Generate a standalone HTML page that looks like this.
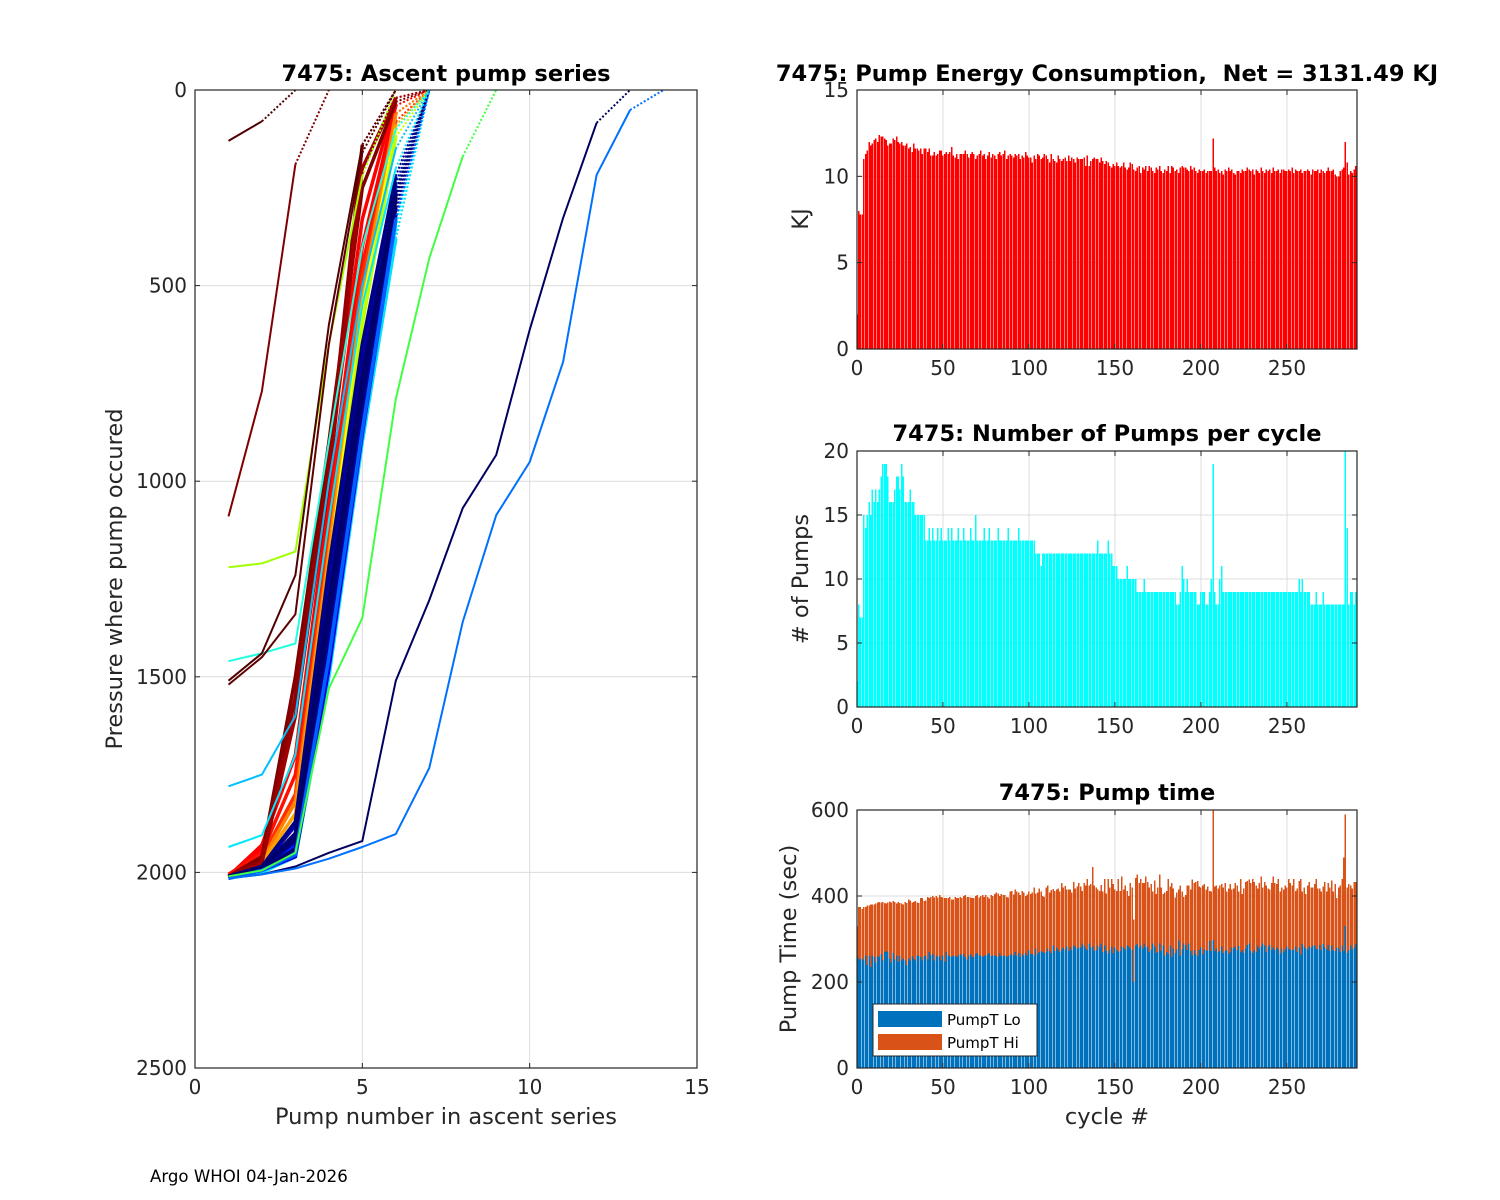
<!DOCTYPE html>
<html><head><meta charset="utf-8">
<style>
html,body{margin:0;padding:0;background:#fff;}
svg{display:block;font-family:"DejaVu Sans","Liberation Sans",sans-serif;}
</style></head>
<body>
<svg id="fig" width="1500" height="1200" viewBox="0 0 1500 1200">
<rect x="0" y="0" width="1500" height="1200" fill="#fff"/>
</svg>
<script>
// ---------- Left chart data ----------
const profileColors = [
"#ff0000","#ff0000","#ff1000","#ff3000","#ff8000","#ffa000","#ffff00","#c0ff00",
"#800000","#900000","#a00000",
"#00ff80","#00ffff","#00e0ff",
"#0000ff","#0020ff","#0040ff","#0000e0","#0000c0",
"#000080","#00008f","#000070","#00009f","#000080","#00006a","#0060ff",
"#800000","#a0ff00","#20ffe0","#00c0ff","#00e8ff","#500000","#600000",
"#40ff40","#000060","#0070ff"];
const profilePressures = [
[2010,1940,1600,950,330,20,0],
[2010,1930,1700,1050,400,40,0],
[2005,1950,1750,1100,450,60,0],
[2010,1960,1800,1150,480,80,0],
[2010,1970,1820,1180,520,60,0],
[2010,1975,1850,1200,540,90,0],
[2010,1980,1900,1230,560,100,0],
[2010,1982,1910,1260,600,120,0],
[2010,1960,1500,900,250,30,0],
[2010,1970,1550,950,140,0],
[2010,1975,1600,1000,200,20,0],
[2010,1990,1920,1300,650,250,0],
[2010,1990,1930,1380,800,350,0],
[2015,2000,1960,1500,900,380,0],
[2010,1990,1900,1280,700,260,0],
[2010,1985,1930,1350,750,280,0],
[2012,1990,1950,1400,820,300,0],
[2015,1995,1960,1480,880,330,0],
[2010,1985,1880,1250,680,240,0],
[2010,1988,1900,1300,720,260,0],
[2010,1990,1920,1330,760,280,0],
[2012,1992,1940,1380,800,300,0],
[2012,1995,1955,1420,840,320,0],
[2010,1985,1870,1220,650,220,0],
[2010,1988,1910,1310,740,270,0],
[2015,1995,1955,1450,870,330,0],
[1090,770,190,0],
[1220,1210,1180,650,220,0],
[1460,1440,1415,900,400,100,0],
[1780,1750,1600,1000,500,150,0],
[1935,1905,1700,1100,550,200,0],
[1510,1440,1240,600,140,0],
[1520,1450,1340,650,160,0],
[2010,1995,1950,1530,1350,790,430,170,0],
[2015,2005,1985,1950,1920,1510,1304,1069,933,613,327,84,0],
[2015,2005,1990,1965,1935,1902,1733,1360,1087,951,695,217,51,0]];
const profileA = [130,80,0];
const leftXTicks = [0,5,10,15];
const leftYTicks = [0,500,1000,1500,2000,2500];

// ---------- Right chart data ----------
const energy = [
2,8,7.8,7.8,11,11.3,11.5,12,11.8,11.9,
12.1,12.2,12,12.4,12.3,12.3,12.2,12.1,11.8,11.9,
11.9,12.2,12.1,12.3,12,11.9,12,11.8,11.8,11.9,
11.6,11.7,11.4,11.9,11.6,11.6,11.5,11.6,11.3,11.6,
11.6,11.4,11.6,11.2,11.2,11.4,11.2,11.3,11.5,11.5,
11.2,11.3,11.4,11.3,11.4,11.7,11.2,11.1,11.3,11.0,
11.3,11.3,11.3,11.5,11.3,11.1,11.3,11.4,11.3,11.0,
11.2,11.3,11.5,11.2,11.3,11.0,11.2,11.4,11.1,11.3,
11.2,11.0,11.3,11.4,11.2,11.3,11.5,11.0,11.2,11.3,
11.2,11.1,11.3,11.2,11.3,11.0,11.2,11.1,11.4,11.2,
11.1,11.1,10.8,11.2,11.0,11.3,11.2,11.0,11.1,11.3,
11.2,11.0,10.8,11.3,11.0,10.9,10.8,11.2,11.0,10.9,
11.0,11.1,10.9,11.2,10.9,11.1,11.0,10.8,11.1,11.0,
11.0,11.0,11.1,10.6,11.2,10.6,10.9,11.0,11.1,11.0,
11.0,10.8,11.1,10.9,10.7,10.9,10.8,10.6,10.5,10.7,
10.6,10.8,10.6,10.5,10.6,10.8,10.5,10.4,10.5,10.8,
10.7,10.4,10.3,10.5,10.6,10.2,10.5,10.4,10.6,10.3,
10.6,10.5,10.3,10.2,10.5,10.4,10.6,10.3,10.2,10.4,
10.3,10.6,10.2,10.6,10.5,10.3,10.4,10.2,10.5,10.6,
10.5,10.5,10.4,10.3,10.6,10.4,10.5,10.3,10.2,10.4,
10.3,10.3,10.4,10.2,10.3,10.3,10.3,12.2,10.5,10.3,
10.4,10.2,10.3,10.1,10.4,10.3,10.5,10.3,10.4,10.2,
10.1,10.3,10.3,10.2,10.4,10.3,10.3,10.5,10.4,10.3,
10.4,10.1,10.4,10.3,10.2,10.5,10.3,10.2,10.4,10.3,
10.4,10.2,10.5,10.3,10.3,10.4,10.2,10.4,10.4,10.3,
10.3,10.4,10.3,10.5,10.2,10.4,10.3,10.3,10.4,10.2,
10.3,10.3,10.4,10.3,10.1,10.4,10.3,10.3,10.4,10.2,
10.4,10.3,10.2,10.3,10.5,10.3,10.3,10.4,10.1,10.0,
10.0,10.3,10.4,10.5,12.0,10.8,10.1,10.3,10.2,10.4,
10.6];
const pumps = [
2,8,7,7,15,14,15,16,15,17,
16,17,16,17,18,19,19,19,18,16,
16,16,17,18,18,17,19,18,16,16,
16,17,16,16,15,15,15,15,15,15,
13,13,14,13,14,13,13,14,13,14,
13,13,13,14,13,14,13,13,13,14,
13,13,14,13,13,13,14,13,13,15,
13,13,13,13,14,13,13,14,13,13,
13,13,14,13,13,13,13,13,14,13,
13,13,13,13,14,13,13,13,13,13,
13,13,13,13,12,12,12,11,12,12,
12,12,12,12,12,12,12,12,12,12,
12,12,12,12,12,12,12,12,12,12,
12,12,12,12,12,12,12,12,12,12,
13,12,12,12,12,12,13,12,12,11,
11,11,10,10,10,10,10,11,10,10,
10,10,10,9,9,9,9,10,9,9,
9,9,9,9,9,9,9,9,9,9,
9,9,9,9,9,9,8,8,9,11,
10,9,10,9,9,9,9,9,8,8,
9,9,9,8,8,9,10,19,9,8,
8,10,11,9,9,9,9,9,9,9,
9,9,9,9,9,9,9,9,9,9,
9,9,9,9,9,9,9,9,9,9,
9,9,9,9,9,9,9,9,9,9,
9,9,9,9,9,9,9,10,9,10,
9,9,9,9,8,8,8,9,8,8,
8,9,8,8,8,8,8,8,8,8,
8,8,8,8,20,14,8,9,9,8,
9];
const pumpTotal = [
330,375,375,370,375,375,378,378,380,380,
380,383,385,386,385,386,384,383,385,387,
385,388,386,383,386,384,383,380,386,384,
392,390,385,386,388,385,384,395,395,388,
390,398,395,398,400,396,400,396,402,398,
396,395,395,395,398,392,392,398,395,395,
398,395,400,402,398,398,396,395,395,400,
402,396,400,402,398,402,398,394,402,400,
405,408,406,400,405,402,402,398,396,410,
412,404,415,410,408,402,412,408,400,404,
410,405,408,420,406,408,418,410,400,398,
420,425,408,414,416,412,415,418,410,430,
420,423,415,415,415,408,432,418,422,430,
422,412,430,425,440,425,428,468,425,420,
415,412,426,410,440,406,440,420,440,428,
415,412,440,412,445,415,425,412,400,430,
420,345,442,450,430,440,430,430,445,432,
420,428,410,436,405,420,450,420,405,408,
412,440,422,430,418,396,408,415,424,410,
398,402,425,425,415,438,430,432,435,422,
420,425,428,415,422,412,410,600,422,425,
418,425,428,420,430,410,418,428,415,418,
430,425,410,440,405,418,432,435,438,430,
440,432,425,418,430,445,420,432,425,418,
415,430,445,430,428,440,410,420,415,425,
420,440,430,425,440,412,418,435,440,410,
420,405,425,432,420,420,428,440,418,418,
410,422,432,410,430,420,436,410,428,395,
420,425,440,490,590,420,428,425,418,432,
432];
const pumpLo = [
260,255,252,255,250,262,240,260,235,262,
258,245,260,258,265,250,270,272,270,255,
245,268,252,262,246,260,250,255,250,240,
255,250,260,255,250,262,260,258,250,260,
262,252,270,263,265,250,262,258,260,250,
262,248,270,262,260,258,262,260,258,262,
265,262,265,258,252,262,264,258,258,265,
268,262,262,258,262,262,264,268,260,262,
262,260,258,266,260,260,262,258,262,262,
265,262,270,262,268,258,265,262,268,262,
275,265,265,262,278,265,270,272,270,268,
270,278,272,268,285,272,280,275,270,276,
280,276,282,272,280,274,285,282,278,280,
280,290,285,278,275,290,280,282,272,275,
285,280,290,270,285,272,266,275,282,268,
280,275,270,272,282,280,276,285,282,278,
275,200,285,288,280,285,278,290,280,282,
270,276,290,282,268,270,290,272,285,262,
270,265,285,258,278,268,276,296,262,276,
290,286,275,290,272,262,275,265,260,275,
280,265,276,275,272,295,272,298,272,278,
270,272,282,268,272,274,265,270,280,278,
282,275,284,270,275,268,278,286,290,272,
268,274,270,285,278,282,290,285,270,282,
286,275,280,275,280,276,266,278,270,276,
282,278,275,276,274,282,270,280,264,288,
283,278,276,282,280,285,285,278,276,286,
274,288,280,276,286,272,285,275,272,280,
278,270,285,272,330,268,275,285,276,280,
288];
const cycleTicks = [0,50,100,150,200,250];
const energyTicks = [0,5,10,15];
const pumpTicks = [0,5,10,15,20];
const timeTicks = [0,200,400,600];

const NS = "http://www.w3.org/2000/svg";
const svg = document.getElementById('fig');
function mk(tag, attrs, parent, text){
  const e = document.createElementNS(NS, tag);
  for (const k in attrs) e.setAttribute(k, attrs[k]);
  if (text !== undefined) e.textContent = text;
  (parent || svg).appendChild(e);
  return e;
}

function axesFrame(g, x0, y0, w, h, xTicks, xMap, yTicks, yMap){
  const grid = mk('g', {}, g);
  
  
  xTicks.forEach(t => { const x = xMap(t);
    mk('line', {x1:x, x2:x, y1:y0, y2:y0+h, stroke:'#dcdcdc', 'stroke-width':1}, grid); });
  yTicks.forEach(t => { const y = yMap(t);
    mk('line', {x1:x0, x2:x0+w, y1:y, y2:y, stroke:'#dcdcdc', 'stroke-width':1}, grid); });
}
function axesBox(g, x0, y0, w, h, xTicks, xMap, yTicks, yMap){
  const box = mk('rect', {x:x0, y:y0, width:w, height:h, fill:'none', stroke:'#262626', 'stroke-width':1.2}, g);
  
  
  xTicks.forEach(t => { const x = xMap(t);
    mk('line', {x1:x, x2:x, y1:y0+h, y2:y0+h-5, stroke:'#262626'}, g);
    mk('line', {x1:x, x2:x, y1:y0, y2:y0+5, stroke:'#262626'}, g);
    const tl = mk('text', {x:x, y:y0+h+26, 'font-size':20, fill:'#262626', 'text-anchor':'middle'}, g, String(t));
    
    
  });
  yTicks.forEach(t => { const y = yMap(t);
    mk('line', {x1:x0, x2:x0+5, y1:y, y2:y, stroke:'#262626'}, g);
    mk('line', {x1:x0+w, x2:x0+w-5, y1:y, y2:y, stroke:'#262626'}, g);
    const tl = mk('text', {x:x0-8, y:y+7, 'font-size':20, fill:'#262626', 'text-anchor':'end'}, g, String(t));
    
    
  });
}
function title(g, x, y, s){
  const t = mk('text', {x:x, y:y, 'font-size':22.5, 'font-weight':'bold', fill:'#000', 'text-anchor':'middle', 'xml:space':'preserve', style:'white-space:pre'}, g, s);
  
  
}
function ylabel(g, x, y, s){
  const t = mk('text', {x:0, y:0, 'font-size':22.5, fill:'#262626', 'text-anchor':'middle', transform:`translate(${x},${y}) rotate(-90)`}, g, s);
  
  
}
function xlabel(g, x, y, s){
  const t = mk('text', {x:x, y:y, 'font-size':22.5, fill:'#262626', 'text-anchor':'middle'}, g, s);
  
  
}

// ---------- Left chart ----------
(function(){
  const g = mk('g', {});
  
  
  const x0=195, y0=90, w=502, h=978;
  const xMap = v => x0 + v/15*w;
  const yMap = p => y0 + p/2500*h;
  axesFrame(g, x0, y0, w, h, leftXTicks, xMap, leftYTicks, yMap);
  const clip = mk('clipPath', {id:'lclip'}, g);
  mk('rect', {x:x0, y:y0, width:w, height:h}, clip);
  const lines = mk('g', {'clip-path':'url(#lclip)'}, g);
  function drawProfile(arr, color, sw){
    const n = arr.length;
    let d = '';
    for (let i=0;i<n-1;i++) d += (i?'L':'M') + xMap(i+1).toFixed(1) + ',' + yMap(arr[i]).toFixed(1);
    if (n > 2) {
      const p = mk('path', {d:d, fill:'none', stroke:color, 'stroke-width':sw, 'stroke-linejoin':'round'}, lines);
      
      
    }
    const q = mk('path', {d:`M${xMap(n-1)},${yMap(arr[n-2])}L${xMap(n)},${yMap(arr[n-1])}`, fill:'none', stroke:color, 'stroke-width':2, 'stroke-dasharray':'2,2'}, lines);
    
    
  }
  profilePressures.forEach((arr, i) => {
    const sw = i < 26 ? 3.5 : 2;
    drawProfile(arr, profileColors[i], sw);
  });
  drawProfile(profileA, '#500000', 2);
  axesBox(g, x0, y0, w, h, leftXTicks, xMap, leftYTicks, yMap);
  title(g, 446, 81, '7475: Ascent pump series');
  ylabel(g, 122, 579, 'Pressure where pump occured');
  xlabel(g, 446, 1124, 'Pump number in ascent series');
})();

// ---------- Right charts ----------
const rx0 = 857, rw = 500, xmax = 290.7;
const cMap = c => rx0 + c/xmax*rw;
const bw = 1.5;

(function(){
  const g = mk('g', {});
  
  
  const y0=90, h=259;
  const yMap = v => y0 + h - v/15*h;
  axesFrame(g, rx0, y0, rw, h, cycleTicks, cMap, energyTicks, yMap);
  const bars = mk('g', {'shape-rendering':'crispEdges'}, g);
  energy.forEach((v,i) => {
    const b = mk('rect', {x:cMap(i)-bw/2, y:yMap(v), width:bw, height:yMap(0)-yMap(v), fill:'#ff0000'}, bars);
    
    
  });
  axesBox(g, rx0, y0, rw, h, cycleTicks, cMap, energyTicks, yMap);
  title(g, 1107, 81, '7475: Pump Energy Consumption,  Net = 3131.49 KJ');
  ylabel(g, 808, 219, 'KJ');
})();

(function(){
  const g = mk('g', {});
  
  
  const y0=451, h=256;
  const yMap = v => y0 + h - v/20*h;
  axesFrame(g, rx0, y0, rw, h, cycleTicks, cMap, pumpTicks, yMap);
  const bars = mk('g', {'shape-rendering':'crispEdges'}, g);
  pumps.forEach((v,i) => {
    const b = mk('rect', {x:cMap(i)-bw/2, y:yMap(v), width:bw, height:yMap(0)-yMap(v), fill:'#00ffff'}, bars);
    
    
  });
  axesBox(g, rx0, y0, rw, h, cycleTicks, cMap, pumpTicks, yMap);
  title(g, 1107, 441, '7475: Number of Pumps per cycle');
  ylabel(g, 808, 579, '# of Pumps');
})();

(function(){
  const g = mk('g', {});
  
  
  const y0=810, h=258;
  const yMap = v => y0 + h - v/600*h;
  axesFrame(g, rx0, y0, rw, h, cycleTicks, cMap, timeTicks, yMap);
  const bars = mk('g', {'shape-rendering':'crispEdges'}, g);
  pumpTotal.forEach((t,i) => {
    const lo = pumpLo[i];
    const bh = mk('rect', {x:cMap(i)-bw/2, y:yMap(t), width:bw, height:yMap(lo)-yMap(t), fill:'#d95319'}, bars);
    
    
    const bl = mk('rect', {x:cMap(i)-bw/2, y:yMap(lo), width:bw, height:yMap(0)-yMap(lo), fill:'#0072bd'}, bars);
    
    
  });
  axesBox(g, rx0, y0, rw, h, cycleTicks, cMap, timeTicks, yMap);
  title(g, 1107, 800, '7475: Pump time');
  ylabel(g, 796, 939, 'Pump Time (sec)');
  xlabel(g, 1107, 1124, 'cycle #');
  const lg = mk('g', {}, g);
  
  
  mk('rect', {x:873, y:1004, width:164, height:52, fill:'#fff', stroke:'#262626', 'stroke-width':1}, lg);
  const e1 = mk('g', {}, lg);
  
  
  mk('rect', {x:878, y:1011, width:64, height:16, fill:'#0072bd'}, e1);
  mk('text', {x:947, y:1025, 'font-size':15, fill:'#000'}, e1, 'PumpT Lo');
  const e2 = mk('g', {}, lg);
  
  
  mk('rect', {x:878, y:1034, width:64, height:16, fill:'#d95319'}, e2);
  mk('text', {x:947, y:1048, 'font-size':15, fill:'#000'}, e2, 'PumpT Hi');
})();

const foot = mk('text', {x:150, y:1182, 'font-size':16.6, fill:'#000'}, svg, 'Argo WHOI 04-Jan-2026');


</script>
</body></html>
